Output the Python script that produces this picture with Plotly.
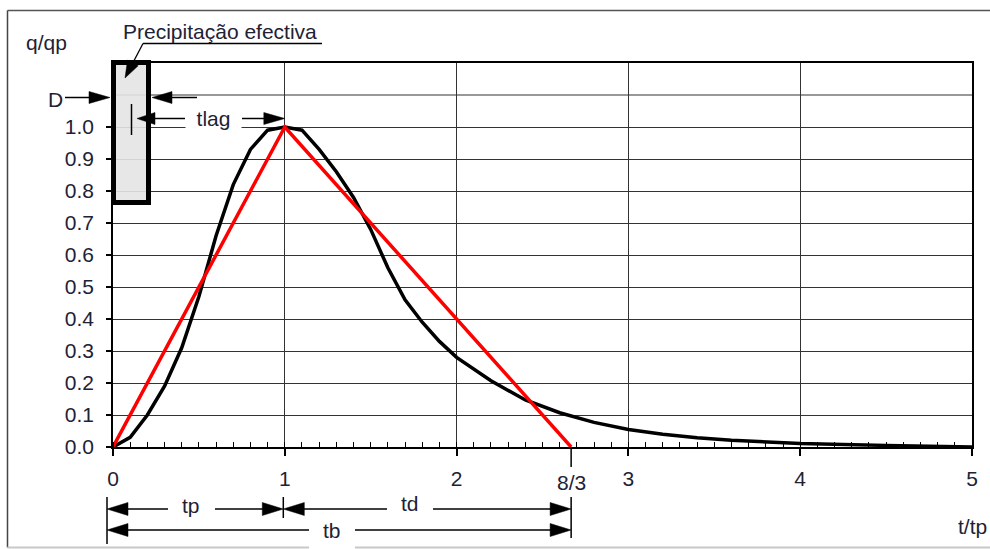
import math
import plotly.graph_objects as go

# ---------------- data ----------------
T_RATIO = [0.0, 0.1, 0.2, 0.3, 0.4, 0.5, 0.6, 0.7, 0.8, 0.9, 1.0, 1.1, 1.2, 1.3, 1.4, 1.5,
           1.6, 1.7, 1.8, 1.9, 2.0, 2.2, 2.4, 2.6, 2.8, 3.0, 3.2, 3.4, 3.6, 3.8, 4.0, 4.5, 5.0]
Q_RATIO = [0.000, 0.030, 0.100, 0.190, 0.310, 0.470, 0.660, 0.820, 0.930, 0.990, 1.000, 0.990,
           0.930, 0.860, 0.780, 0.680, 0.560, 0.460, 0.390, 0.330, 0.280, 0.207, 0.147, 0.107,
           0.077, 0.055, 0.040, 0.029, 0.021, 0.015, 0.011, 0.005, 0.000]
TRI_T = [0.0, 1.0, 8 / 3]
TRI_Q = [0.0, 1.0, 0.0]
X_TICKS = [0, 1, 2, 3, 4, 5]
X_LABELS = ["0", "1", "2", "3", "4", "5"]
Y_TICKS = [0.0, 0.1, 0.2, 0.3, 0.4, 0.5, 0.6, 0.7, 0.8, 0.9, 1.0]
Y_LABELS = ["0.0", "0.1", "0.2", "0.3", "0.4", "0.5", "0.6", "0.7", "0.8", "0.9", "1.0"]
X_RANGE = [0, 5]
Y_RANGE = [0, 1.2]
TB_RATIO = 8 / 3

# ---------------- geometry helpers ----------------
W, H = 990, 549
ML, MR, MT, MB = 113, 18, 63, 102
PL, PR, PT, PB = ML, W - MR, MT, H - MB

FONT = "Liberation Sans, Arial, sans-serif"
TXT = "#1e2235"


def xpix(t):
    return PL + (t - X_RANGE[0]) / (X_RANGE[1] - X_RANGE[0]) * (PR - PL)


def ypix(q):
    return PB - (q - Y_RANGE[0]) / (Y_RANGE[1] - Y_RANGE[0]) * (PB - PT)


def P(x, y):
    """pixel -> paper"""
    return (x - PL) / (PR - PL), (PB - y) / (PB - PT)


shapes = []
annotations = []


def line(x0, y0, x1, y1, color="black", width=1.5):
    a, b = P(x0, y0)
    c, d = P(x1, y1)
    shapes.append(dict(type="line", xref="paper", yref="paper", x0=a, y0=b, x1=c, y1=d,
                       line=dict(color=color, width=width), layer="above"))


def arrow(tx, ty, hx, hy, hl=21, hw=13, width=1.5):
    dx, dy = hx - tx, hy - ty
    L = math.hypot(dx, dy)
    ux, uy = dx / L, dy / L
    bx, by = hx - ux * hl, hy - uy * hl
    nx, ny = -uy, ux
    line(tx, ty, bx + ux * 1, by + uy * 1, width=width)
    pts = [(hx, hy), (bx + nx * hw / 2, by + ny * hw / 2), (bx - nx * hw / 2, by - ny * hw / 2)]
    pp = [P(*p) for p in pts]
    path = "M{},{} L{},{} L{},{} Z".format(pp[0][0], pp[0][1], pp[1][0], pp[1][1], pp[2][0], pp[2][1])
    shapes.append(dict(type="path", xref="paper", yref="paper", path=path,
                       fillcolor="black", line=dict(color="black", width=0.5), layer="above"))


def text(s, x, y, size=21, xanchor="center", **kw):
    a, b = P(x, y)
    annotations.append(dict(text=s, x=a, y=b, xref="paper", yref="paper", showarrow=False,
                            xanchor=xanchor, yanchor="middle",
                            font=dict(family=FONT, size=size, color=TXT), **kw))


# ---------------- figure ----------------
fig = go.Figure()
fig.add_trace(go.Scatter(x=T_RATIO, y=Q_RATIO, mode="lines",
                         line=dict(color="black", width=3.5), hoverinfo="skip"))
fig.add_trace(go.Scatter(x=TRI_T, y=TRI_Q, mode="lines",
                         line=dict(color="#ff0000", width=3.5), hoverinfo="skip"))

# extra gridline at 1.1
shapes.append(dict(type="line", xref="paper", yref="y", x0=0, x1=1, y0=1.1, y1=1.1,
                   line=dict(color="#333333", width=1.2), layer="below"))

# outer frame
line(7.5, 10.5, 990, 10.5, color="#555555", width=1.5)
line(7.5, 10.5, 7.5, 547.5, color="#444444", width=1.5)
line(7.5, 547.5, 309, 547.5, color="#c8c8c8", width=2)
line(355, 547.5, 990, 547.5, color="#c8c8c8", width=2)

# effective rainfall block
r0 = P(113.5, 202.5)
r1 = P(148.5, 62.5)
shapes.append(dict(type="rect", xref="paper", yref="paper", x0=r0[0], y0=r0[1], x1=r1[0], y1=r1[1],
                   fillcolor="rgba(228,228,228,0.9)", line=dict(color="black", width=5), layer="above"))
line(131.5, 104, 131.5, 135, width=1.5)

# Precipitacao label with leader
text("Precipitação efectiva", 220, 32)
line(143, 43.5, 322, 43.5, width=1.3)
arrow(143, 43.5, 125, 78, hl=17, hw=12, width=1.3)

# q/qp
text("q/qp", 46, 42)

# D
text("D", 55, 99)
arrow(65, 97.5, 110, 97.5, hl=21, hw=12)
arrow(197, 97.5, 152, 97.5, hl=20, hw=12)

# tlag
arrow(185, 118.5, 137, 118.5, hl=18, hw=12)
arrow(242, 118.5, xpix(1), 118.5, hl=21, hw=12)
text("tlag", 213.5, 118, bgcolor="white", width=55, height=24, borderpad=0)

# 8/3 tick + label
x83 = xpix(TB_RATIO)
line(x83, PB, x83, 467, width=1.5)
text("8/3", x83, 482)

# brackets
line(107, 497, 107, 544, width=1.5)
line(xpix(1) - 1.5, 497, xpix(1) - 1.5, 518, width=1.5)
line(x83, 497, x83, 538, width=1.5)

# tp
arrow(168, 509, 107, 509)
arrow(215, 509, xpix(1) - 1.5, 509)
text("tp", 191, 505)
# td
arrow(387, 509, xpix(1) - 1.5, 509)
arrow(433, 509, x83, 509)
text("td", 410, 503)
# tb
arrow(309, 530, 107, 530)
arrow(355, 530, x83, 530)
text("tb", 332, 530)

# axis title t/tp
text("t/tp", 989, 526, xanchor="right")

fig.update_layout(
    width=W, height=H,
    margin=dict(l=ML, r=MR, t=MT, b=MB, pad=0),
    paper_bgcolor="white", plot_bgcolor="white",
    showlegend=False,
    shapes=shapes, annotations=annotations,
    xaxis=dict(range=X_RANGE, tickvals=X_TICKS, ticktext=X_LABELS,
               ticks="outside", ticklen=7, tickwidth=1.5, tickcolor="black",
               showgrid=True, gridcolor="#333333", gridwidth=1.2,
               showline=True, linecolor="black", linewidth=1.5, mirror=True,
               zeroline=False, ticklabelstandoff=5,
               minor=dict(dtick=0.1, tick0=0, ticks="inside", ticklen=5, tickwidth=1,
                          tickcolor="black", showgrid=False),
               tickfont=dict(family=FONT, size=21, color=TXT)),
    yaxis=dict(range=Y_RANGE, tickvals=Y_TICKS, ticktext=Y_LABELS,
               ticks="outside", ticklen=5, tickwidth=1.5, tickcolor="black",
               showgrid=True, gridcolor="#333333", gridwidth=1.2,
               showline=True, linecolor="black", linewidth=1.5, mirror=True,
               zeroline=False, ticklabelstandoff=8,
               tickfont=dict(family=FONT, size=21, color=TXT)),
)

fig.write_html("out.html", config={"displayModeBar": False},
               post_script="document.body.style.margin='0';")
